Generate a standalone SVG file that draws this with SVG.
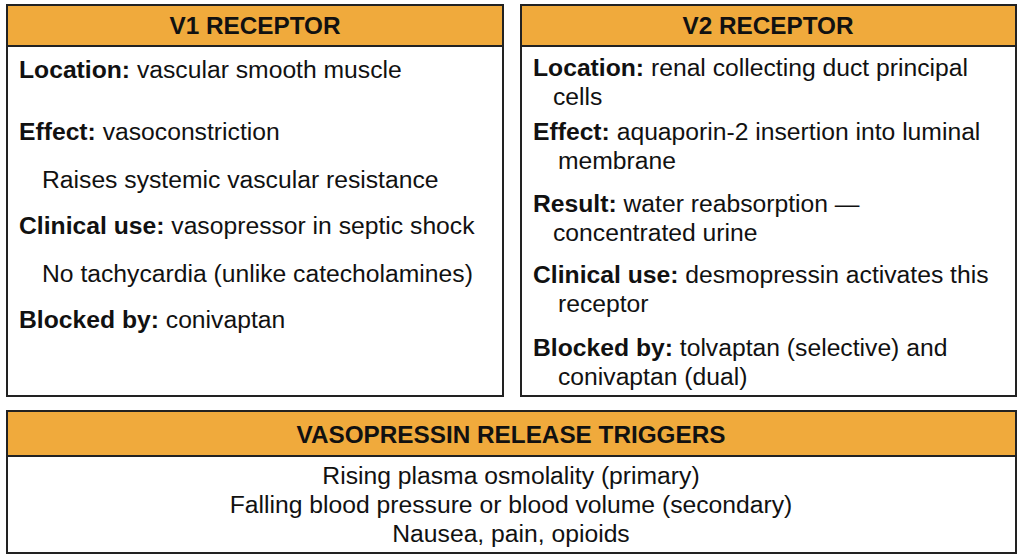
<svg xmlns="http://www.w3.org/2000/svg" width="1024" height="559" viewBox="0 0 1024 559">
<style>
.box{fill:#fff;stroke:#222;stroke-width:2}
.hdr{fill:#F0AA3C;stroke:#222;stroke-width:2}
.h{font-family:"Liberation Sans",Arial,sans-serif;font-weight:bold;font-size:24.3px;fill:#111;text-anchor:middle}
.t{font-family:"Liberation Sans",Arial,sans-serif;font-size:24.7px;fill:#111}
.c{text-anchor:middle}
.b{font-weight:bold}
</style>
<rect width="1024" height="559" fill="#fff"/>
<g id="v1">
<rect class="box" x="7" y="5" width="496" height="391"/>
<rect class="hdr" x="7" y="5" width="496" height="41"/>
<text class="h" x="255" y="34">V1 RECEPTOR</text>
<text class="t" x="19" y="78"><tspan class="b">Location:</tspan> vascular smooth muscle</text>
<text class="t" x="19" y="140"><tspan class="b">Effect:</tspan> vasoconstriction</text>
<text class="t" x="42" y="188">Raises systemic vascular resistance</text>
<text class="t" x="19" y="234"><tspan class="b">Clinical use:</tspan> vasopressor in septic shock</text>
<text class="t" x="42" y="282">No tachycardia (unlike catecholamines)</text>
<text class="t" x="19" y="328"><tspan class="b">Blocked by:</tspan> conivaptan</text>
</g>
<g id="v2">
<rect class="box" x="521" y="5" width="495" height="391"/>
<rect class="hdr" x="521" y="5" width="495" height="41"/>
<text class="h" x="768" y="34">V2 RECEPTOR</text>
<text class="t" x="533" y="76"><tspan class="b">Location:</tspan> renal collecting duct principal</text>
<text class="t" x="553" y="105">cells</text>
<text class="t" x="533" y="140"><tspan class="b">Effect:</tspan> aquaporin-2 insertion into luminal</text>
<text class="t" x="558" y="169">membrane</text>
<text class="t" x="533" y="212"><tspan class="b">Result:</tspan> water reabsorption —</text>
<text class="t" x="553" y="241">concentrated urine</text>
<text class="t" x="533" y="283"><tspan class="b">Clinical use:</tspan> desmopressin activates this</text>
<text class="t" x="558" y="312">receptor</text>
<text class="t" x="533" y="356"><tspan class="b">Blocked by:</tspan> tolvaptan (selective) and</text>
<text class="t" x="558" y="385">conivaptan (dual)</text>
</g>
<g id="triggers">
<rect class="box" x="7" y="411" width="1009" height="142"/>
<rect class="hdr" x="7" y="411" width="1009" height="45"/>
<text class="h" x="511" y="443">VASOPRESSIN RELEASE TRIGGERS</text>
<text class="t c" x="511" y="484">Rising plasma osmolality (primary)</text>
<text class="t c" x="511" y="513">Falling blood pressure or blood volume (secondary)</text>
<text class="t c" x="511" y="542">Nausea, pain, opioids</text>
</g>
<g id="connectors"/>
</svg>
